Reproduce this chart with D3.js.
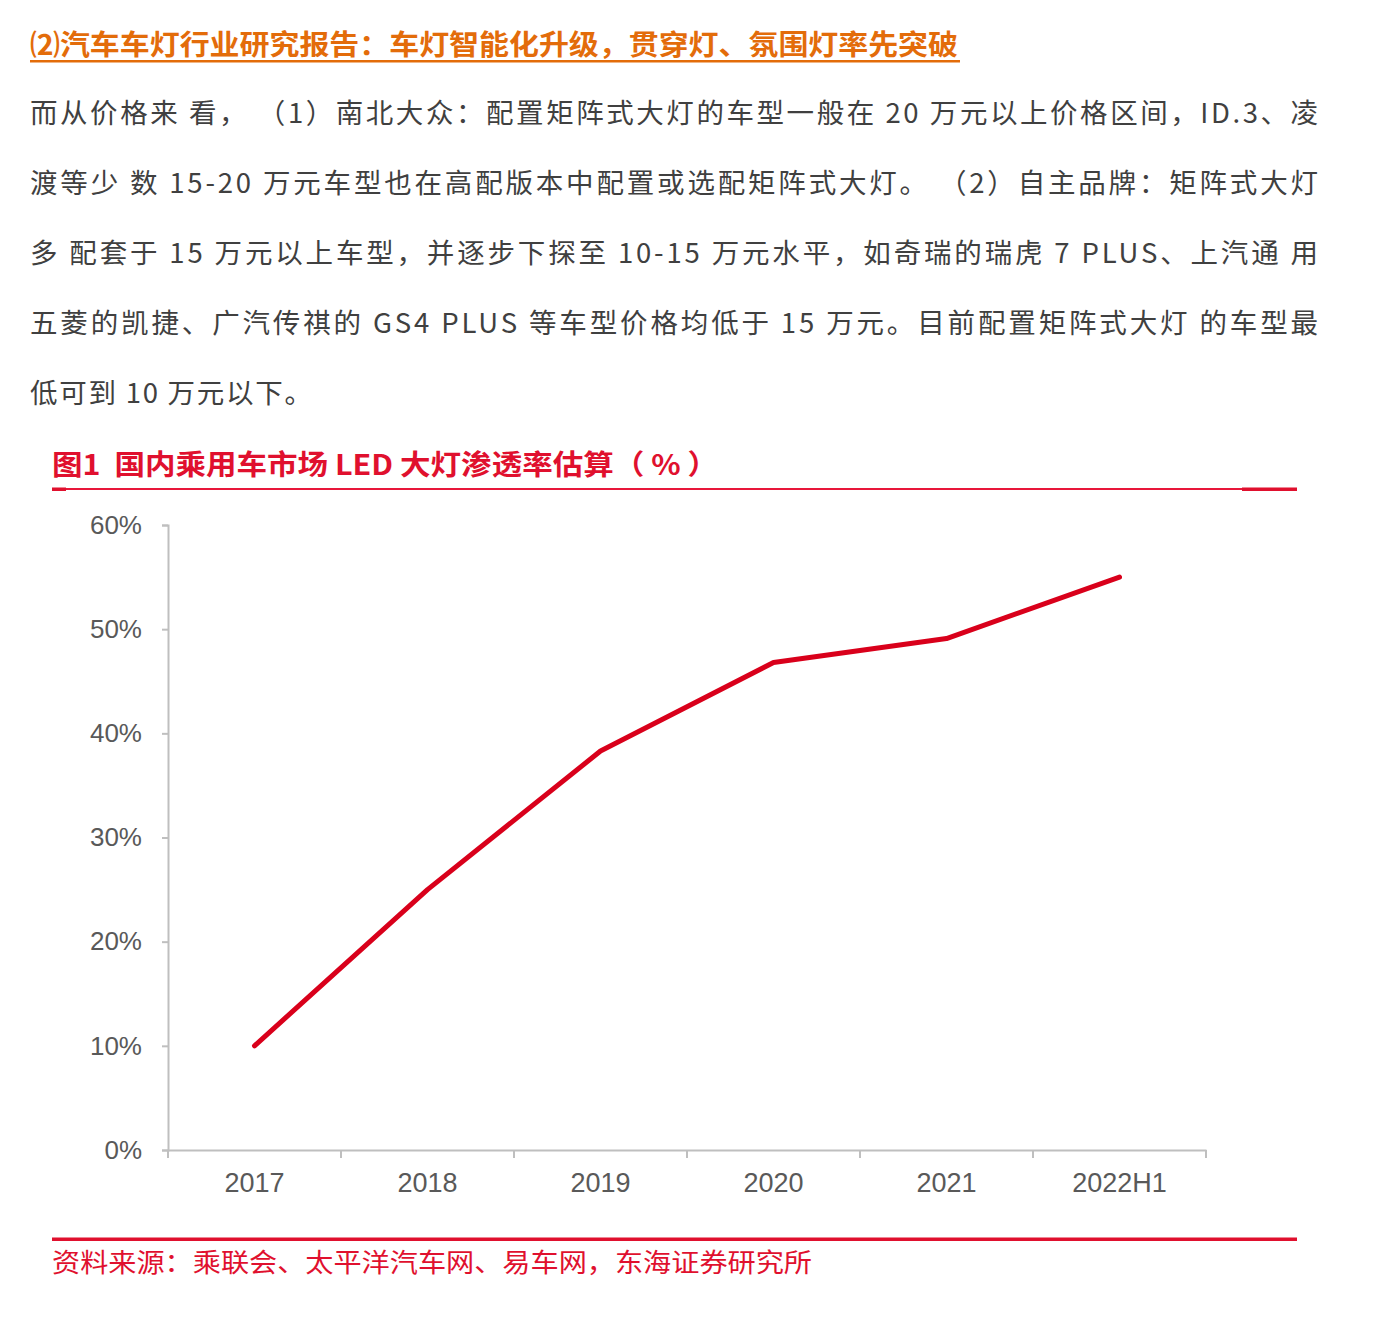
<!DOCTYPE html>
<html><head><meta charset="utf-8">
<script src="https://cdn.jsdelivr.net/npm/d3@7"></script>
<style>body{margin:0;background:#fff}svg{display:block}</style>
</head><body>
<script>
const headline = "⑵汽车车灯行业研究报告：车灯智能化升级，贯穿灯、氛围灯率先突破";
const bodyLines = [
  "而从价格来 看， （1）南北大众：配置矩阵式大灯的车型一般在 20 万元以上价格区间，ID.3、凌",
  "渡等少 数 15-20 万元车型也在高配版本中配置或选配矩阵式大灯。 （2）自主品牌：矩阵式大灯",
  "多 配套于 15 万元以上车型，并逐步下探至 10-15 万元水平，如奇瑞的瑞虎 7 PLUS、上汽通 用",
  "五菱的凯捷、广汽传祺的 GS4 PLUS 等车型价格均低于 15 万元。目前配置矩阵式大灯 的车型最",
  "低可到 10 万元以下。"
];
const bodyWidths = [1288, 1288, 1288, 1288, 282];
const chartTitle = "图1\u00A0\u00A0国内乘用车市场 LED 大灯渗透率估算（ % ）";
const sourceText = "资料来源：乘联会、太平洋汽车网、易车网，东海证券研究所";
const categories = ["2017","2018","2019","2020","2021","2022H1"];
const values = [0.10, 0.25, 0.383, 0.468, 0.491, 0.55];
const yTicks = [0, 0.1, 0.2, 0.3, 0.4, 0.5, 0.6];

const W = 1381, H = 1321;
const svg = d3.select("body").append("svg").attr("width", W).attr("height", H);
const cjk = "'Noto Sans CJK SC','Noto Sans',sans-serif";

// headline
svg.append("text").attr("x", 30).attr("y", 55)
  .attr("font-family", cjk).attr("font-weight", "bold").attr("font-size", 28)
  .attr("fill", "#E36C0A").attr("textLength", 928).attr("lengthAdjust", "spacingAndGlyphs")
  .text(headline);
svg.append("rect").attr("x", 30).attr("y", 60).attr("width", 930).attr("height", 2.5).attr("fill", "#E36C0A");

// body paragraph
bodyLines.forEach((t, i) => {
  svg.append("text").attr("x", 30).attr("y", 123 + i * 70)
    .attr("font-family", cjk).attr("font-size", 27.5).attr("fill", "#404040")
    .attr("textLength", bodyWidths[i]).attr("lengthAdjust", "spacing").text(t);
});

// chart title
svg.append("text").attr("x", 52).attr("y", 475)
  .attr("font-family", cjk).attr("font-weight", "bold").attr("font-size", 28)
  .attr("fill", "#E0102E").attr("textLength", 666).attr("lengthAdjust", "spacingAndGlyphs")
  .text(chartTitle);
svg.append("rect").attr("x", 52).attr("y", 488).attr("width", 1245).attr("height", 2).attr("fill", "#E8173A");
svg.append("rect").attr("x", 52).attr("y", 487.5).attr("width", 14).attr("height", 3.5).attr("fill", "#E0102E");
svg.append("rect").attr("x", 1242).attr("y", 487.5).attr("width", 55).attr("height", 3.5).attr("fill", "#E0102E");

// chart
const x = d3.scaleBand().domain(categories).range([168, 1206]);
const y = d3.scaleLinear().domain([0, 0.6]).range([1150, 525]);
const gray = "#BFBFBF";

const yAxis = svg.append("g").attr("transform", "translate(168,0)")
  .call(d3.axisLeft(y).tickValues(yTicks).tickFormat(d3.format(".0%")).tickSize(6).tickPadding(20));
yAxis.select(".domain").attr("stroke", gray).attr("stroke-width", 2);
yAxis.selectAll(".tick line").attr("stroke", gray).attr("stroke-width", 2);
yAxis.selectAll(".tick text").attr("font-family", "'Liberation Sans',Arial,sans-serif")
  .attr("font-size", 26).attr("fill", "#595959");

const xAxis = svg.append("g").attr("transform", "translate(0,1150)")
  .call(d3.axisBottom(x).tickSizeOuter(0).tickSizeInner(0).tickPadding(23));
xAxis.select(".domain").attr("stroke", gray).attr("stroke-width", 2);
xAxis.selectAll(".tick line").remove();
xAxis.selectAll(".tick text").attr("font-family", "'Liberation Sans',Arial,sans-serif")
  .attr("font-size", 27).attr("fill", "#595959").attr("dy", "0.71em");
// category boundary ticks
const bounds = categories.map(c => x(c)).concat([x.range()[1]]);
xAxis.selectAll(".bnd").data(bounds).enter().append("line").attr("class", "bnd")
  .attr("x1", d => d).attr("x2", d => d).attr("y1", 0).attr("y2", 8)
  .attr("stroke", gray).attr("stroke-width", 2);

const line = d3.line().x((d, i) => x(categories[i]) + x.bandwidth() / 2).y(d => y(d));
svg.append("path").datum(values).attr("d", line).attr("fill", "none")
  .attr("stroke", "#D9001B").attr("stroke-width", 5).attr("stroke-linecap", "round").attr("stroke-linejoin", "round");

// bottom rule and source
svg.append("rect").attr("x", 52).attr("y", 1237.5).attr("width", 1245).attr("height", 3.5).attr("fill", "#E0102E");
svg.append("text").attr("x", 52).attr("y", 1272)
  .attr("font-family", cjk).attr("font-size", 26).attr("fill", "#E0102E")
  .attr("textLength", 760).attr("lengthAdjust", "spacingAndGlyphs")
  .text(sourceText);
</script>
</body></html>
